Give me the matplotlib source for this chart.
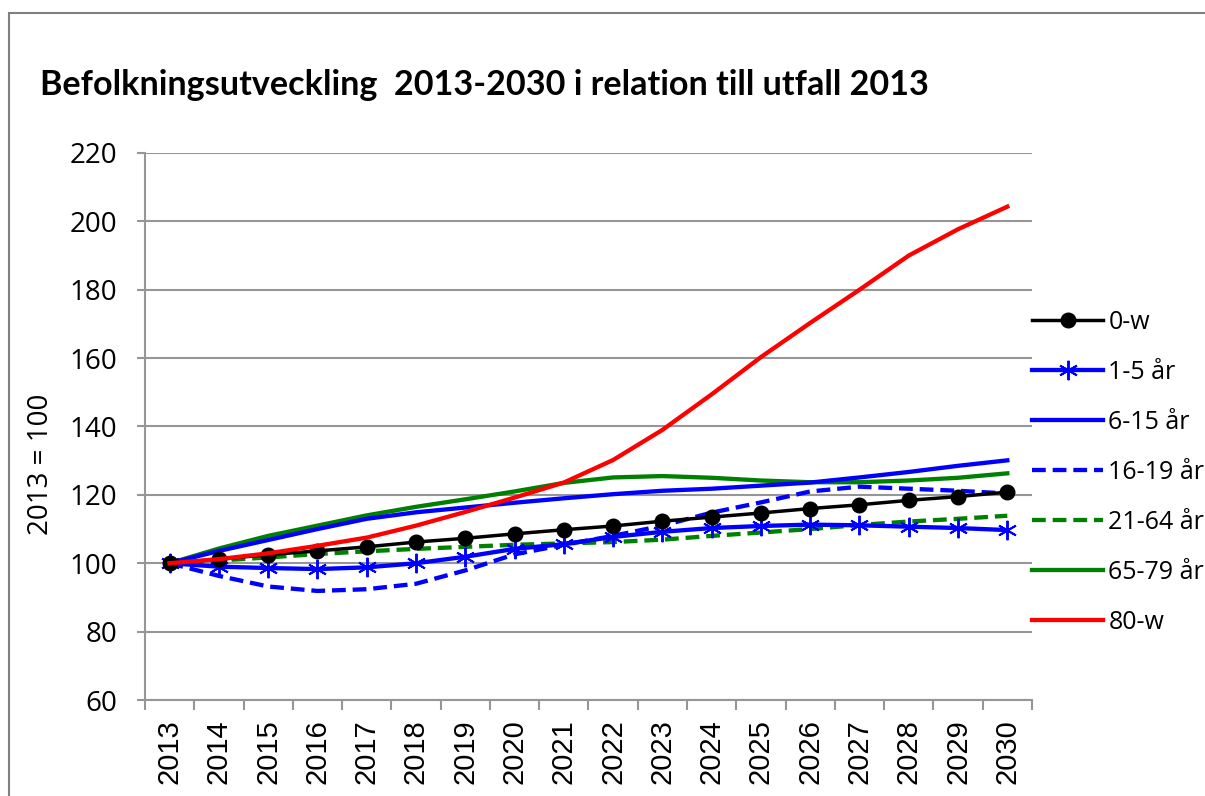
import matplotlib
matplotlib.use('Agg')
import matplotlib.pyplot as plt
from matplotlib.patches import Rectangle

# Data (index 2013 = 100)
years = list(range(2013, 2031))
ages_0_w = [100, 101.2, 102.5, 103.6, 104.8, 106.2, 107.3, 108.6, 109.8, 110.9,
            112.3, 113.5, 114.7, 116.0, 117.1, 118.4, 119.5, 120.8]
ages_1_5 = [100, 99.0, 98.6, 98.3, 98.8, 100.0, 101.9, 104.2, 105.6, 107.7,
            109.2, 110.3, 110.9, 111.3, 111.1, 110.7, 110.3, 109.7]
ages_6_15 = [100, 103.6, 106.8, 110.0, 113.0, 114.9, 116.3, 117.7, 119.0, 120.2,
             121.2, 121.8, 122.7, 123.6, 125.1, 126.7, 128.5, 130.1]
ages_16_19 = [100, 96.3, 93.2, 91.9, 92.4, 94.0, 97.9, 102.6, 105.4, 108.0,
              111.0, 114.8, 117.8, 121.0, 122.4, 121.8, 121.2, 120.4]
ages_21_64 = [100, 100.8, 101.7, 102.7, 103.5, 104.2, 104.8, 105.4, 105.8, 106.2,
              106.9, 108.0, 109.0, 110.0, 111.2, 112.2, 113.0, 113.9]
ages_65_79 = [100, 104.3, 108.0, 111.0, 114.0, 116.5, 118.7, 121.0, 123.5, 125.1,
              125.5, 125.0, 124.2, 123.7, 123.7, 124.2, 125.0, 126.3]
ages_80_w = [100, 101.2, 102.9, 105.1, 107.5, 111.0, 115.0, 119.2, 123.6, 130.2,
             139.0, 149.4, 160.3, 170.3, 180.0, 190.0, 197.7, 204.3]

labels = ['0-w', '1-5 år', '6-15 år', '16-19 år', '21-64 år', '65-79 år', '80-w']

fig = plt.figure(figsize=(12.05, 7.96), dpi=100)
ax = fig.add_axes([0.1203, 0.1206, 0.7361, 0.6872])

# Chart area frame (right/bottom edges fall outside the image)
fig.patches.append(Rectangle((9 / 1205, -0.05), 1.2, 1 - 13 / 796 + 0.05,
                             transform=fig.transFigure, fill=False,
                             edgecolor='#808080', linewidth=1.5))

lw = 3.1
dash = (0, (3.2, 1.6))
ax.plot(years, ages_0_w, color='black', linewidth=2.5, marker='o', markersize=10.5, label=labels[0], zorder=5)
ax.plot(years, ages_1_5, color='#0000FF', linewidth=lw, marker=(6, 2, 0), markersize=14,
        markeredgewidth=1.4, label=labels[1], zorder=4)
ax.plot(years, ages_6_15, color='#0000FF', linewidth=lw, label=labels[2], zorder=4)
ax.plot(years, ages_16_19, color='#0000FF', linewidth=lw, linestyle=dash, label=labels[3], zorder=4)
ax.plot(years, ages_21_64, color='#008000', linewidth=lw, linestyle=dash, label=labels[4], zorder=3)
ax.plot(years, ages_65_79, color='#008000', linewidth=lw, label=labels[5], zorder=3)
ax.plot(years, ages_80_w, color='#FF0000', linewidth=lw, label=labels[6], zorder=6)

ax.set_xlim(2012.5, 2030.5)
ax.set_ylim(60, 220)
ax.set_yticks(range(60, 221, 20))
ax.set_xticks(years)
ax.set_xticks([y - 0.5 for y in years] + [2030.5], minor=True)

ax.grid(axis='y', color='#969696', linewidth=1.5)
ax.set_axisbelow(True)
for side in ['top', 'right']:
    ax.spines[side].set_visible(False)
for side in ['left', 'bottom']:
    ax.spines[side].set_color('#969696')
    ax.spines[side].set_linewidth(1.5)

ax.tick_params(axis='y', direction='out', length=6, width=1.5, color='#969696', pad=14)
ax.tick_params(axis='x', which='major', length=0, pad=14)
ax.tick_params(axis='x', which='minor', direction='out', length=7, width=1.5, color='#969696')

for t in ax.get_yticklabels():
    t.set_fontfamily('Open Sans')
    t.set_fontsize(20)
for t in ax.get_xticklabels():
    t.set_fontfamily('Liberation Sans')
    t.set_fontsize(21)
    t.set_rotation(90)

fig.text(41 / 1205, 1 - 464 / 796, '2013 = 100', rotation=90, ha='center', va='center',
         fontsize=20, fontfamily='Open Sans')

fig.text(40 / 1205, 1 - 85 / 796, 'Befolkningsutveckling  2013-2030 i relation till utfall 2013',
         ha='left', va='center', fontsize=24.6, fontweight='bold', fontfamily='Lato')

leg = ax.legend(loc='upper left', bbox_to_anchor=(1022 / 1205, 1 - 300 / 796),
                bbox_transform=fig.transFigure, frameon=False,
                prop={'family': 'Open Sans', 'size': 18},
                handlelength=2.85, handletextpad=0.2, labelspacing=1.0, borderaxespad=0)

fig.savefig('out.png', dpi=100)
